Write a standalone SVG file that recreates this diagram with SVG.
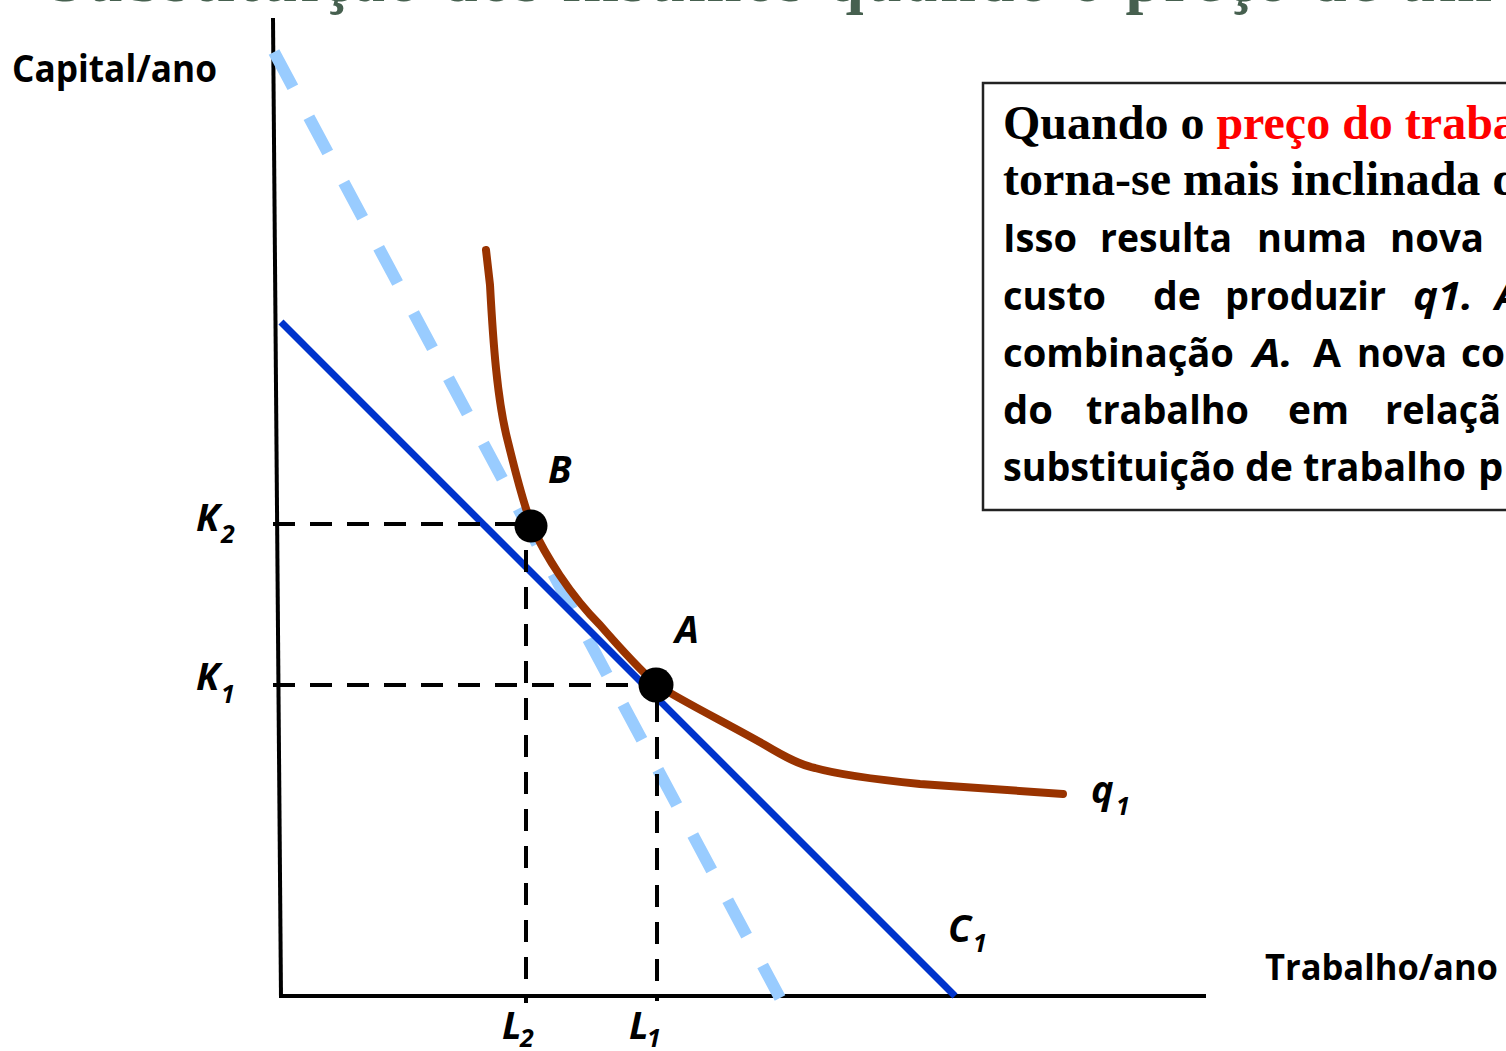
<svg xmlns="http://www.w3.org/2000/svg" width="1506" height="1051" viewBox="0 0 1506 1051">
<style>
.title{font-family:"Liberation Serif",serif;font-weight:bold;font-size:64px;fill:#46604F;letter-spacing:3px}
.ax{stroke:#000;stroke-width:4;fill:none}
.guide{stroke:#000;stroke-width:4;fill:none;stroke-dasharray:22 15}
.lab{font-family:"Open Sans","Liberation Sans",sans-serif;font-weight:bold;fill:#000}
.it{font-family:"Open Sans","Liberation Sans",sans-serif;font-weight:bold;font-style:italic;fill:#000;font-size:38px}
.sub{font-size:25px}
.ser{font-family:"Liberation Serif",serif;font-weight:bold;font-size:48px;fill:#000}
.bx{font-family:"Open Sans","Liberation Sans",sans-serif;font-weight:bold;font-size:40px;fill:#000}
.bxi{font-style:italic}
</style>
<rect width="1506" height="1051" fill="#fff"/>
<g id="title">
<text class="title" x="49" y="1">Substituição dos insumos</text>
<text class="title" x="828" y="1">quando o preço de um</text>
</g>
<g id="axes">
<line class="ax" x1="273" y1="18" x2="281" y2="998"/>
<line class="ax" x1="279" y1="996" x2="1206" y2="996"/>
<text class="lab" x="12" y="82" font-size="37" textLength="205" lengthAdjust="spacingAndGlyphs">Capital/ano</text>
<text class="lab" x="1265" y="980" font-size="36" textLength="233" lengthAdjust="spacingAndGlyphs">Trabalho/ano</text>
</g>
<g id="connectors">
<line x1="274" y1="52" x2="780" y2="998" stroke="#99CCFF" stroke-width="12" stroke-dasharray="40 34"/>
<line x1="281" y1="322" x2="955" y2="996" stroke="#0033CC" stroke-width="7"/>
<path d="M486,250 L490,285 C493,340 497,400 508,442 C515,470 522,500 532,526 C545,555 570,595 600,625 C620,648 638,668 657,685 C680,700 730,725 765,745 C785,757 800,765 815,768 C840,775 870,779 920,784 L1063,794" fill="none" stroke="#993300" stroke-width="8" stroke-linecap="round" stroke-linejoin="round"/>
<line class="guide" x1="273" y1="524" x2="526" y2="524"/>
<line class="guide" x1="526" y1="550" x2="526" y2="1003"/>
<line class="guide" x1="273" y1="685" x2="657" y2="685"/>
<line class="guide" x1="657" y1="700" x2="657" y2="1001"/>
</g>
<g id="pointB">
<circle cx="531" cy="526" r="16.5" fill="#000"/>
<text class="it" x="548" y="483">B</text>
</g>
<g id="pointA">
<circle cx="656" cy="685" r="17.5" fill="#000"/>
<text class="it" x="675" y="643">A</text>
</g>
<g id="labels">
<text class="it" x="196" y="531">K</text><text class="it sub" x="221" y="543">2</text>
<text class="it" x="196" y="690">K</text><text class="it sub" x="221" y="703">1</text>
<text class="it" x="502" y="1039">L</text><text class="it sub" x="520" y="1047">2</text>
<text class="it" x="629" y="1039">L</text><text class="it sub" x="647" y="1047">1</text>
<text class="it" x="1091" y="803">q</text><text class="it sub" x="1116" y="815">1</text>
<text class="it" x="948" y="942">C</text><text class="it sub" x="973" y="952">1</text>
</g>
<g id="textbox">
<rect x="983" y="83" width="540" height="427" fill="#fff" stroke="#222" stroke-width="2.5"/>
<text class="ser" x="1003" y="139">Quando o <tspan fill="#FF0000">preço do traba</tspan></text>
<text class="ser" x="1003" y="195">torna-se mais inclinada d</text>
<g class="bx">
<text x="1003" y="252" textLength="74" lengthAdjust="spacingAndGlyphs">Isso</text>
<text x="1100" y="252" textLength="132" lengthAdjust="spacingAndGlyphs">resulta</text>
<text x="1257" y="252" textLength="110" lengthAdjust="spacingAndGlyphs">numa</text>
<text x="1390" y="252" textLength="94" lengthAdjust="spacingAndGlyphs">nova</text>
<text x="1003" y="310" textLength="103" lengthAdjust="spacingAndGlyphs">custo</text>
<text x="1153" y="310" textLength="48" lengthAdjust="spacingAndGlyphs">de</text>
<text x="1225" y="310" textLength="161" lengthAdjust="spacingAndGlyphs">produzir</text>
<text class="bxi" x="1413" y="310" textLength="60" lengthAdjust="spacingAndGlyphs">q1.</text>
<text class="bxi" x="1495" y="310">A</text>
<text x="1003" y="367" textLength="231" lengthAdjust="spacingAndGlyphs">combinação</text>
<text class="bxi" x="1253" y="367" textLength="40" lengthAdjust="spacingAndGlyphs">A.</text>
<text x="1313" y="367" textLength="28" lengthAdjust="spacingAndGlyphs">A</text>
<text x="1357" y="367" textLength="90" lengthAdjust="spacingAndGlyphs">nova</text>
<text x="1461" y="367" textLength="44" lengthAdjust="spacingAndGlyphs">co</text>
<text x="1003" y="424" textLength="50" lengthAdjust="spacingAndGlyphs">do</text>
<text x="1086" y="424" textLength="163" lengthAdjust="spacingAndGlyphs">trabalho</text>
<text x="1288" y="424" textLength="61" lengthAdjust="spacingAndGlyphs">em</text>
<text x="1385" y="424" textLength="116" lengthAdjust="spacingAndGlyphs">relaçã</text>
<text x="1003" y="481" textLength="232" lengthAdjust="spacingAndGlyphs">substituição</text>
<text x="1245" y="481" textLength="48" lengthAdjust="spacingAndGlyphs">de</text>
<text x="1303" y="481" textLength="163" lengthAdjust="spacingAndGlyphs">trabalho</text>
<text x="1478" y="481">p</text>
</g>
</g>
</svg>
